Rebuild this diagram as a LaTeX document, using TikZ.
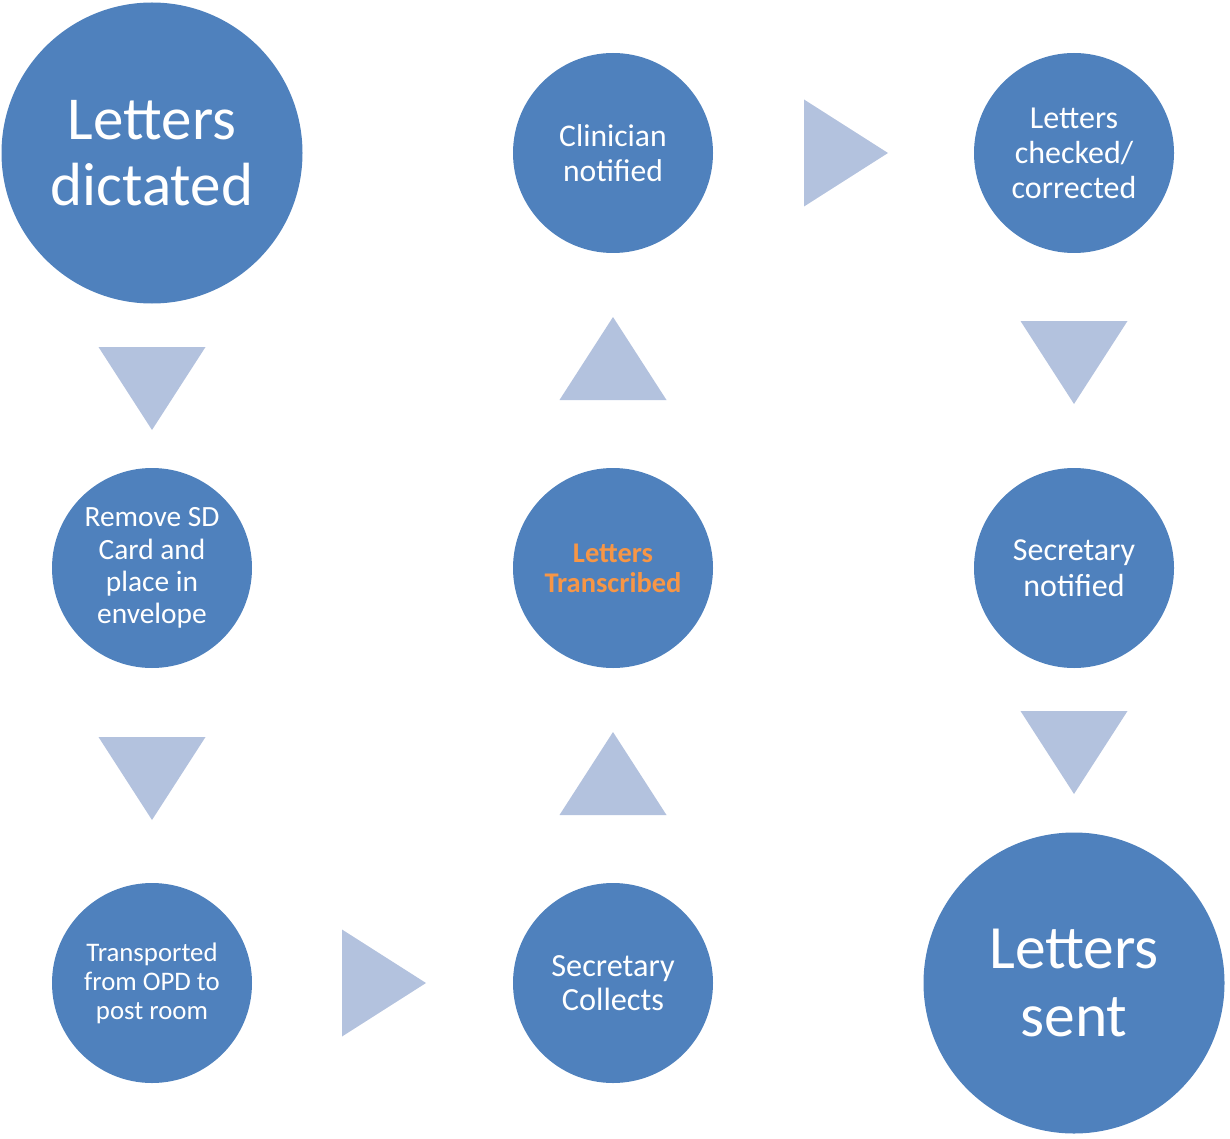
\documentclass[tikz,border=0pt]{standalone}
\usepackage{fontspec}
\setmainfont{Carlito}
\usetikzlibrary{positioning}
\definecolor{stepblue}{HTML}{4F81BD}
\definecolor{arrowblue}{HTML}{B3C2DE}
\definecolor{textorange}{HTML}{F79646}
\tikzset{
  bigstage/.style={circle, fill=stepblue, text=white, align=center, inner sep=0pt, minimum size=301pt, font=\fontsize{61}{66}\selectfont},
  stage/.style={circle, fill=stepblue, text=white, align=center, inner sep=0pt, minimum size=200pt},
  arrowtri/.style={fill=arrowblue}
}
\newcommand{\tridown}[1]{\fill[arrowtri] #1 ++(-53.5,-41.5) -- ++(107,0) -- ++(-53.5,83) -- cycle;}
\newcommand{\triup}[1]{\fill[arrowtri] #1 ++(-53.5,41.5) -- ++(107,0) -- ++(-53.5,-83) -- cycle;}
\newcommand{\triright}[1]{\fill[arrowtri] #1 ++(-42,-53.5) -- ++(0,107) -- ++(84,-53.5) -- cycle;}

\begin{document}
\begin{tikzpicture}[x=1pt, y=-1pt]
    % Frame
    \useasboundingbox (0,0) rectangle (1230,1139);
    % Left column
    \node[bigstage] (dictated) at (152,153) {Letters\\dictated};
    \node[stage, font=\fontsize{29.4}{32.3}\selectfont] (remove) at (152,568) {Remove SD\\Card and\\place in\\envelope};
    \node[stage, font=\fontsize{26.8}{29}\selectfont] (transport) at (152,983) {Transported\\from OPD to\\post room};
    % Middle column
    \node[stage, font=\fontsize{31.6}{35}\selectfont] (clinician) at (613,153) {Clinician\\notified};
    \node[stage, text=textorange, font=\bfseries\fontsize{28.5}{30}\selectfont] (transcribed) at (613,568) {Letters\\Transcribed};
    \node[stage, font=\fontsize{32.3}{34.5}\selectfont] (collects) at (613,983) {Secretary\\Collects};
    % Right column
    \node[stage, font=\fontsize{32}{35}\selectfont] (checked) at (1074,153) {Letters\\checked/\\corrected};
    \node[stage, font=\fontsize{32}{36}\selectfont] (secnotified) at (1074,568) {Secretary\\notified};
    \node[bigstage, font=\fontsize{61.5}{68}\selectfont] (sent) at (1074,983) {Letters\\sent};
    % Arrow triangles
    \tridown{(152,388.5)}
    \tridown{(152,778.5)}
    \triright{(384,983)}
    \triup{(613,773.5)}
    \triup{(613,358.5)}
    \triright{(846,153)}
    \tridown{(1074,362.5)}
    \tridown{(1074,752.5)}
\end{tikzpicture}
\end{document}
